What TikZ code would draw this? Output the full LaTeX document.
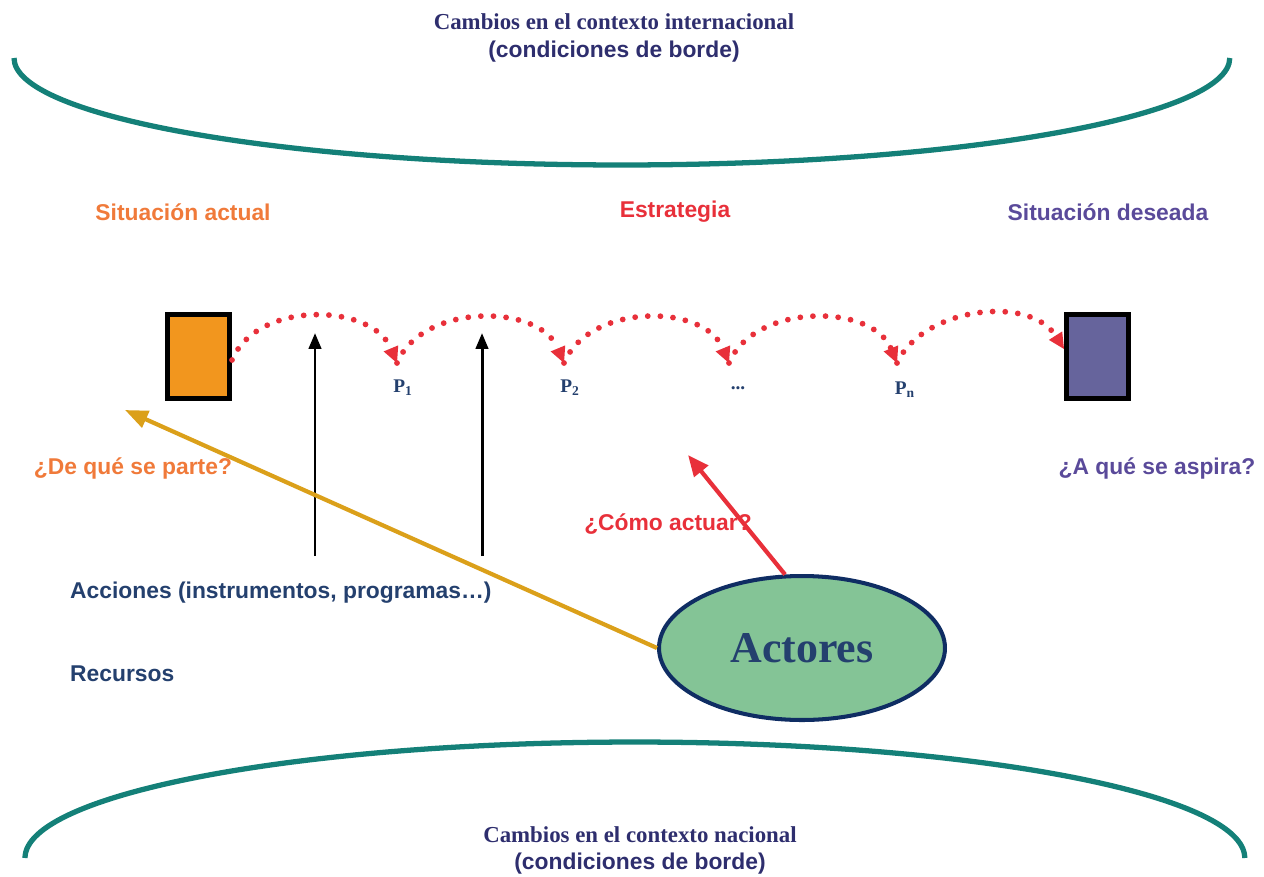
\documentclass[tikz,border=0pt]{standalone}
\usepackage{fontspec}
\setmainfont{Liberation Serif}
\setsansfont{Liberation Sans}
\usetikzlibrary{arrows.meta,shapes.geometric}
\definecolor{teal1}{HTML}{148078}
\definecolor{navytxt}{HTML}{2E2E6E}
\definecolor{orangetxt}{HTML}{F07A3A}
\definecolor{redc}{HTML}{E8303A}
\definecolor{purpletxt}{HTML}{5A4A9A}
\definecolor{bluetxt}{HTML}{24406E}
\definecolor{orangebox}{HTML}{F2961E}
\definecolor{purplebox}{HTML}{66649C}
\definecolor{ellfill}{HTML}{84C496}
\definecolor{ellborder}{HTML}{0F2D63}
\definecolor{gold}{HTML}{DBA01A}
\begin{document}
\begin{tikzpicture}[x=0.02cm,y=-0.02cm,
  bound/.style={draw=teal1,line width=3pt},
  sertitle/.style={font=\rmfamily\bfseries\fontsize{13}{15}\selectfont,text=navytxt},
  sanssub/.style={font=\sffamily\bfseries\fontsize{13}{15}\selectfont,text=navytxt},
  lbl/.style={font=\sffamily\bfseries\fontsize{13}{15}\selectfont},
  sbox/.style={draw=black,line width=3pt,minimum width=1.24cm,minimum height=1.68cm,inner sep=0pt},
  hop/.style={draw=redc,line width=3.3pt,line cap=round,dash pattern=on 0pt off 7.2pt,-{Triangle[length=9pt,width=9pt,fill=redc,line width=0pt]}},
  plabel/.style={font=\rmfamily\bfseries\fontsize{11}{13}\selectfont,text=bluetxt},
  varrow/.style={draw=black,line width=1.7pt,-{Triangle[length=9pt,width=7pt]}},
]
\useasboundingbox (0,0) rectangle (1264,876);

% boundary arcs
\draw[bound] (14,58) arc[start angle=180,end angle=360,x radius=12.16cm,y radius=2.14cm];
\draw[bound] (25,858) arc[start angle=180,end angle=0,x radius=12.2cm,y radius=2.32cm];

\node[sertitle] (ti) at (614,22) {Cambios en el contexto internacional};
\node[sanssub] (ts) at (614,52) {(condiciones de borde)};
\node[sertitle] (bi) at (640,835) {Cambios en el contexto nacional};
\node[sanssub] (bs) at (640,864) {(condiciones de borde)};

% headings
\node[lbl,text=orangetxt] (sa) at (183,212) {Situación actual};
\node[lbl,text=redc] (es) at (675,212) {Estrategia};
\node[lbl,text=purpletxt] (sd) at (1108,212) {Situación deseada};

% boxes
\node[sbox,fill=orangebox] (ob) at (198.5,356.5) {};
\node[sbox,fill=purplebox] (pb) at (1097.5,356.5) {};

% P points
\coordinate (p0) at (232,360);
\coordinate (p1) at (397,363);
\coordinate (p2) at (564,363);
\coordinate (p3) at (729,363);
\coordinate (p4) at (897,363);
\coordinate (p5) at (1064,349);

\draw[hop] (p0) .. controls +(25,-60) and +(-25,-60) .. (p1);
\draw[hop] (p1) .. controls +(25,-60) and +(-25,-60) .. (p2);
\draw[hop] (p2) .. controls +(25,-60) and +(-25,-60) .. (p3);
\draw[hop] (p3) .. controls +(25,-60) and +(-25,-60) .. (p4);
\draw[hop] (p4) .. controls +(25,-55) and +(-35,-55) .. (p5);

\node[plabel] (l1) at (403,388) {P$_{\mathbf 1}$};
\node[plabel] (l2) at (570,388) {P$_{\mathbf 2}$};
\node[plabel] (l3) at (738,388) {...};
\node[plabel] (l4) at (905,390) {P$_{\mathbf n}$};

% vertical action arrows
\coordinate (a1s) at (315,556);
\coordinate (a1e) at (315,333);
\coordinate (a2s) at (482,556);
\coordinate (a2e) at (482,333);
\draw[varrow] (a1s) -- (a1e);
\draw[varrow] (a2s) -- (a2e);

% questions
\node[lbl,text=orangetxt] (q1) at (133,468) {¿De qué se parte?};
\node[lbl,text=purpletxt] (q2) at (1157,468) {¿A qué se aspira?};
\node[lbl,text=redc] (q3) at (668,524) {¿Cómo actuar?};

\node[lbl,text=bluetxt,anchor=west] (acc) at (64,593) {Acciones (instrumentos, programas…)};
\node[lbl,text=bluetxt,anchor=west] (rec) at (64,674) {Recursos};

% actores
\node[ellipse,draw=ellborder,line width=2.3pt,fill=ellfill,minimum width=5.72cm,minimum height=2.88cm,inner sep=0pt,
  font=\rmfamily\bfseries\fontsize{25}{29}\selectfont,text=bluetxt] (act) at (802,648) {Actores};

\coordinate (gEnd) at (125,410);
\coordinate (rEnd) at (688,455);
\draw[draw=gold,line width=2.4pt,-{Triangle[length=13pt,width=10pt]}] (act.west) -- (gEnd);
\draw[draw=redc,line width=2.4pt,-{Triangle[length=12pt,width=10pt]}] (act.103) -- (rEnd);

\end{tikzpicture}
\end{document}
